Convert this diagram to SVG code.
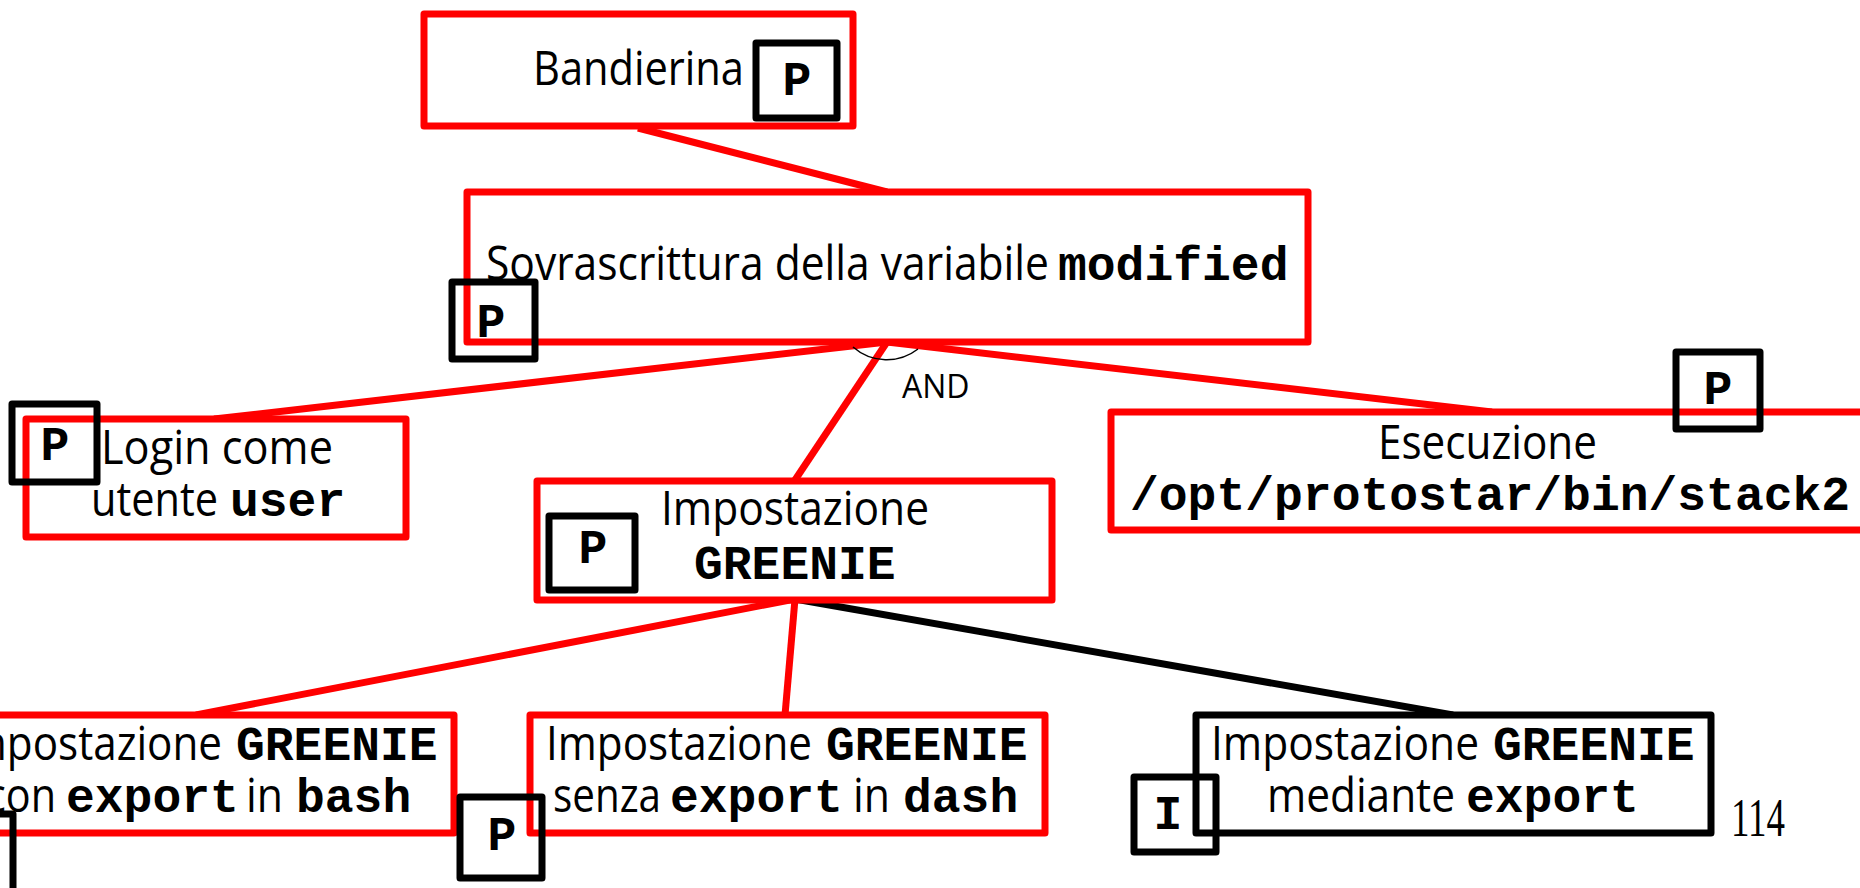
<svg xmlns="http://www.w3.org/2000/svg" width="1860" height="888" viewBox="0 0 1860 888">
  <style>
    .box { fill: #fff; stroke: #f00; stroke-width: 7; stroke-linejoin: round; }
    .kbox { fill: #fff; stroke: #000; stroke-width: 7; stroke-linejoin: round; }
    .tag { fill: none; stroke: #000; stroke-width: 7; stroke-linejoin: round; }
    .red { stroke: #f00; stroke-width: 7; fill: none; }
    .blk { stroke: #000; stroke-width: 7; fill: none; }
    .s { font-family: "Open Sans", "Noto Sans", sans-serif; font-size: 48px; fill: #000; }
    .m { font-family: "Liberation Mono", "Courier New", monospace; font-weight: bold; font-size: 48px; fill: #000; }
    .t { font-family: "Liberation Mono", "Courier New", monospace; font-weight: bold; font-size: 48px; fill: #000; text-anchor: middle; }
  </style>
  <rect width="1860" height="888" fill="#fff"/>

  <!-- connectors -->
  <g id="connectors">
    <line class="red" x1="638" y1="128" x2="887" y2="192"/>
    <line class="red" x1="887" y1="342" x2="214" y2="419"/>
    <line class="red" x1="887" y1="342" x2="795" y2="480"/>
    <line class="red" x1="887" y1="342" x2="1492" y2="412"/>
    <line class="red" x1="795" y1="599" x2="196" y2="715"/>
    <line class="red" x1="795" y1="599" x2="785" y2="715"/>
    <line class="blk" x1="795" y1="599" x2="1453" y2="715"/>
    <!-- AND arc -->
    <path d="M 853 347 A 51 51 0 0 0 918 349" fill="none" stroke="#000" stroke-width="1.5"/>
    <text class="s" x="902" y="398" style="font-size:32px">AND</text>
  </g>

  <g id="n-bandierina">
    <rect class="box" x="424" y="14" width="429" height="112"/>
    <text class="s" x="533" y="85" textLength="211" lengthAdjust="spacingAndGlyphs">Bandierina</text>
    <rect class="tag" x="756" y="43" width="81" height="75"/>
    <text class="t" x="797" y="95">P</text>
  </g>

  <g id="n-sovrascrittura">
    <rect class="box" x="467" y="192" width="841" height="150"/>
    <text class="s" x="486" y="280" textLength="563" lengthAdjust="spacingAndGlyphs">Sovrascrittura della variabile</text>
    <text class="m" x="1058" y="280">modified</text>
    <rect class="tag" x="452" y="282" width="83" height="77"/>
    <text class="t" x="491" y="337">P</text>
  </g>

  <g id="n-login">
    <rect class="box" x="26" y="419" width="380" height="118"/>
    <text class="s" x="101" y="464" textLength="232" lengthAdjust="spacingAndGlyphs">Login come</text>
    <text class="s" x="91" y="516" textLength="127" lengthAdjust="spacingAndGlyphs">utente</text>
    <text class="m" x="230" y="516">user</text>
    <rect class="tag" x="12" y="404" width="85" height="78"/>
    <text class="t" x="55" y="460">P</text>
  </g>

  <g id="n-greenie">
    <rect class="box" x="537" y="481" width="515" height="119"/>
    <text class="s" x="661" y="525" textLength="268" lengthAdjust="spacingAndGlyphs">Impostazione</text>
    <text class="m" x="694" y="579">GREENIE</text>
    <rect class="tag" x="549" y="516" width="86" height="74"/>
    <text class="t" x="593" y="563">P</text>
  </g>

  <g id="n-esecuzione">
    <rect class="box" x="1111" y="412" width="800" height="118"/>
    <text class="s" x="1378" y="459" textLength="219" lengthAdjust="spacingAndGlyphs">Esecuzione</text>
    <text class="m" x="1130" y="510">/opt/protostar/bin/stack2</text>
    <rect class="tag" x="1676" y="352" width="84" height="77"/>
    <text class="t" x="1718" y="404">P</text>
  </g>

  <g id="n-bash">
    <rect class="box" x="-60" y="715" width="514" height="118"/>
    <text class="s" x="-44" y="760" textLength="266" lengthAdjust="spacingAndGlyphs">Impostazione</text>
    <text class="m" x="236" y="760">GREENIE</text>
    <text class="s" x="-14" y="812" textLength="70" lengthAdjust="spacingAndGlyphs">con</text>
    <text class="m" x="66" y="812">export</text>
    <text class="s" x="246" y="812" textLength="37" lengthAdjust="spacingAndGlyphs">in</text>
    <text class="m" x="296" y="812">bash</text>
    <rect class="tag" x="-70" y="814" width="83" height="90"/>
  </g>

  <g id="n-dash">
    <rect class="box" x="530" y="715" width="515" height="118"/>
    <text class="s" x="546" y="760" textLength="266" lengthAdjust="spacingAndGlyphs">Impostazione</text>
    <text class="m" x="826" y="760">GREENIE</text>
    <text class="s" x="553" y="812" textLength="108" lengthAdjust="spacingAndGlyphs">senza</text>
    <text class="m" x="670" y="812">export</text>
    <text class="s" x="853" y="812" textLength="37" lengthAdjust="spacingAndGlyphs">in</text>
    <text class="m" x="903" y="812">dash</text>
    <rect class="tag" x="460" y="797" width="82" height="81"/>
    <text class="t" x="502" y="850">P</text>
  </g>

  <g id="n-export">
    <rect class="kbox" x="1196" y="715" width="515" height="118"/>
    <text class="s" x="1211" y="760" textLength="268" lengthAdjust="spacingAndGlyphs">Impostazione</text>
    <text class="m" x="1493" y="760">GREENIE</text>
    <text class="s" x="1267" y="812" textLength="188" lengthAdjust="spacingAndGlyphs">mediante</text>
    <text class="m" x="1466" y="812">export</text>
    <rect class="tag" x="1134" y="777" width="82" height="75"/>
    <text class="t" x="1168" y="829">I</text>
  </g>

  <text x="1731" y="836" font-family="'Liberation Serif', 'Times New Roman', serif" font-size="54" textLength="54" lengthAdjust="spacingAndGlyphs">114</text>
</svg>
